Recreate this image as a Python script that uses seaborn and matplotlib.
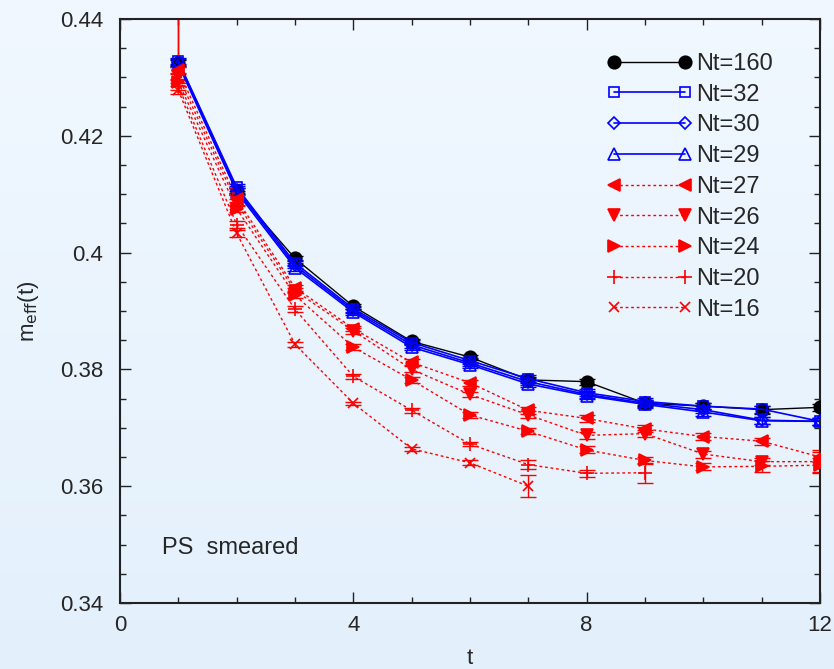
import numpy as np
import matplotlib
matplotlib.use("Agg")
import matplotlib.pyplot as plt
import seaborn as sns

# time slices
t = np.arange(1, 13)

# effective mass per temporal extent
m_nt160 = [0.4325, 0.4105, 0.3990, 0.3908, 0.3848, 0.3821, 0.3782, 0.3779, 0.3742, 0.3737, 0.3731, 0.3735]
m_nt32 = [0.4328, 0.4112, 0.3982, 0.3904, 0.3846, 0.3815, 0.3784, 0.3760, 0.3745, 0.3737, 0.3732, 0.3711]
m_nt30 = [0.4326, 0.4108, 0.3978, 0.3901, 0.3842, 0.3811, 0.3779, 0.3757, 0.3742, 0.3731, 0.3713, 0.3711]
m_nt29 = [0.4322, 0.4104, 0.3974, 0.3898, 0.3838, 0.3808, 0.3775, 0.3755, 0.3740, 0.3727, 0.3712, 0.3711]
m_nt27 = [0.4312, 0.4092, 0.3940, 0.3870, 0.3812, 0.3777, 0.3730, 0.3716, 0.3698, 0.3685, 0.3677, 0.3650]
m_nt26 = [0.4302, 0.4085, 0.3935, 0.3866, 0.3800, 0.3757, 0.3722, 0.3687, 0.3690, 0.3655, 0.3642, 0.3642]
m_nt24 = [0.4292, 0.4075, 0.3927, 0.3838, 0.3782, 0.3722, 0.3694, 0.3662, 0.3644, 0.3633, 0.3634, 0.3636]
m_nt20 = [0.4285, 0.4048, 0.3903, 0.3788, 0.3730, 0.3672, 0.3637, 0.3622, 0.3623]
m_nt16 = [0.4278, 0.4033, 0.3843, 0.3742, 0.3664, 0.3640, 0.3600]

# statistical errors
e_nt160 = [0.0005, 0.0005, 0.0004, 0.0004, 0.0004, 0.0004, 0.0005, 0.0005, 0.0005, 0.0005, 0.0007, 0.0006]
e_nt32 = [0.0005, 0.0006, 0.0005, 0.0005, 0.0005, 0.0005, 0.0006, 0.0006, 0.0006, 0.0006, 0.0006, 0.0006]
e_nt30 = [0.0005, 0.0006, 0.0005, 0.0005, 0.0005, 0.0005, 0.0006, 0.0006, 0.0006, 0.0006, 0.0006, 0.0006]
e_nt29 = [0.0005, 0.0006, 0.0005, 0.0005, 0.0005, 0.0005, 0.0006, 0.0006, 0.0006, 0.0006, 0.0006, 0.0006]
e_nt27 = [0.0006, 0.0006, 0.0005, 0.0005, 0.0005, 0.0005, 0.0006, 0.0006, 0.0006, 0.0006, 0.0006, 0.0008]
e_nt26 = [0.0006, 0.0006, 0.0005, 0.0005, 0.0005, 0.0005, 0.0006, 0.0006, 0.0006, 0.0006, 0.0006, 0.0020]
e_nt24 = [0.0006, 0.0006, 0.0005, 0.0005, 0.0005, 0.0005, 0.0005, 0.0006, 0.0006, 0.0006, 0.0009, 0.0012]
e_nt20 = [0.0006, 0.0006, 0.0005, 0.0004, 0.0004, 0.0004, 0.0008, 0.0006, 0.0017]
e_nt16 = [0.0006, 0.0006, 0.0004, 0.0003, 0.0003, 0.0004, 0.0019]

# huge upward error at t=1 for two ensembles
up_err_t1 = {"Nt=29": 0.02, "Nt=16": 0.02}

labels = ["Nt=160", "Nt=32", "Nt=30", "Nt=29", "Nt=27", "Nt=26", "Nt=24", "Nt=20", "Nt=16"]
values = [m_nt160, m_nt32, m_nt30, m_nt29, m_nt27, m_nt26, m_nt24, m_nt20, m_nt16]
errors = [e_nt160, e_nt32, e_nt30, e_nt29, e_nt27, e_nt26, e_nt24, e_nt20, e_nt16]

styles = {
    "Nt=160": dict(color="black", marker="o", ms=9, mfc="black", ls="-", lw=1.0),
    "Nt=32": dict(color="#0000ff", marker="s", ms=7, mfc="none", ls="-", lw=1.2),
    "Nt=30": dict(color="#0000ff", marker="D", ms=6.5, mfc="none", ls="-", lw=1.2),
    "Nt=29": dict(color="#0000ff", marker="^", ms=8, mfc="none", ls="-", lw=1.2),
    "Nt=27": dict(color="#ff0000", marker="<", ms=9, mfc="#ff0000", ls=(0, (2, 2)), lw=1.0),
    "Nt=26": dict(color="#ff0000", marker="v", ms=9, mfc="#ff0000", ls=(0, (2, 2)), lw=1.0),
    "Nt=24": dict(color="#ff0000", marker=">", ms=9, mfc="#ff0000", ls=(0, (2, 2)), lw=1.0),
    "Nt=20": dict(color="#ff0000", marker="+", ms=10, mfc="#ff0000", ls=(0, (2, 2)), lw=1.0),
    "Nt=16": dict(color="#ff0000", marker="x", ms=6.5, mfc="#ff0000", ls=(0, (2, 2)), lw=1.0),
}

sns.set_style("ticks")
plt.rcParams["font.family"] = ["Liberation Sans", "DejaVu Sans"]

fig = plt.figure(figsize=(8.34, 6.69), dpi=100)

# light blue gradient backdrop
bg = fig.add_axes([0, 0, 1, 1], zorder=-10)
grad = np.linspace(0, 1, 256).reshape(-1, 1)
bg.imshow(grad, aspect="auto", cmap=matplotlib.colors.LinearSegmentedColormap.from_list(
    "bg", ["#f1f8ff", "#e3f0fc"]), extent=[0, 1, 0, 1])
bg.axis("off")

ax = fig.add_axes([0.1439, 0.0987, 0.8393, 0.8729])
ax.set_facecolor("none")

for lab, vals, errs in zip(labels, values, errors):
    st = styles[lab]
    tt = t[:len(vals)]
    lo = np.array(errs, dtype=float)
    hi = lo.copy()
    if lab in up_err_t1:
        hi[0] = up_err_t1[lab]
    ax.errorbar(tt, vals, yerr=[lo, hi], fmt="none", ecolor=st["color"],
                elinewidth=1.0, capsize=6, capthick=1.0, zorder=2)
    sns.lineplot(x=tt, y=vals, ax=ax, color=st["color"], marker=st["marker"],
                 markersize=st["ms"], markerfacecolor=st["mfc"],
                 markeredgecolor=st["color"], markeredgewidth=1.2,
                 linestyle=st["ls"], linewidth=st["lw"], label=lab, zorder=3)

ax.set_xlim(0, 12)
ax.set_ylim(0.34, 0.44)
ax.set_xticks([0, 4, 8, 12])
ax.set_xticks(np.arange(0, 13, 1), minor=True)
ax.set_yticks([0.34, 0.36, 0.38, 0.40, 0.42, 0.44])
ax.set_yticklabels(["0.34", "0.36", "0.38", "0.4", "0.42", "0.44"])
ax.set_yticks(np.arange(0.34, 0.4401, 0.005), minor=True)
ax.tick_params(which="both", direction="in", top=True, right=True, width=1.0, color="#222222")
ax.tick_params(which="major", length=8, labelsize=16)
ax.tick_params(axis="y", which="major", pad=12)
ax.tick_params(axis="x", which="major", pad=9)
ax.tick_params(which="minor", length=4)
for sp in ax.spines.values():
    sp.set_linewidth(1.5)
    sp.set_color("#222222")

ax.set_xlabel("t", fontsize=16, labelpad=8)
ax.set_ylabel(r"m$_{\rm eff}$(t)", fontsize=16, labelpad=14)

ax.text(0.06, 0.094, "PS  smeared", transform=ax.transAxes, fontsize=17,
        va="center", ha="left")

leg = ax.legend(loc="upper left", bbox_to_anchor=(0.696, 0.942), frameon=False,
                fontsize=17, numpoints=2, handlelength=3.6, handletextpad=0.15,
                labelspacing=0.37, borderpad=0.0, borderaxespad=0.0)

fig.savefig("out.png", dpi=100)
